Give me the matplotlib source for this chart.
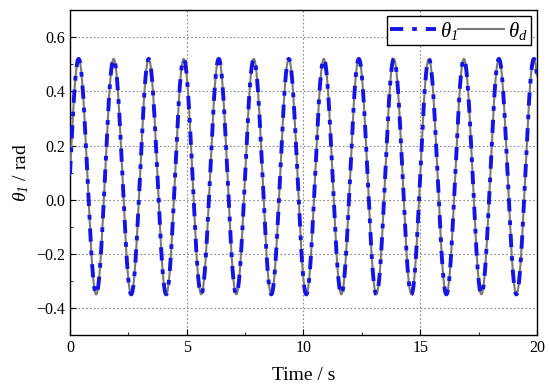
import numpy as np
import matplotlib
matplotlib.use("Agg")
import matplotlib.pyplot as plt
from matplotlib.ticker import MultipleLocator

plt.rcParams['font.family'] = ['Liberation Serif', 'DejaVu Serif']
plt.rcParams['mathtext.fontset'] = 'custom'
plt.rcParams['mathtext.rm'] = 'Liberation Serif:italic'
plt.rcParams['mathtext.it'] = 'Liberation Serif:italic'

# Extrema of the reference trajectory
peak_times = [0.37, 1.87, 3.37, 4.87, 6.37, 7.87, 9.37, 10.87, 12.37, 13.87, 15.37, 16.87, 18.37, 19.87]
peak_value = 0.52
trough_value = -0.35
x_limits = (0, 20)
y_limits = (-0.5, 0.7)
x_ticks = [0, 5, 10, 15, 20]
y_ticks = [-0.4, -0.2, 0.0, 0.2, 0.4, 0.6]

# Build extrema sequence (peaks and troughs between them)
ext_t = []
ext_v = []
period = peak_times[1] - peak_times[0]
ext_t.append(peak_times[0] - period / 2)
ext_v.append(trough_value)
for tp in peak_times:
    ext_t.append(tp)
    ext_v.append(peak_value)
    ext_t.append(tp + period / 2)
    ext_v.append(trough_value)

t = np.linspace(0, 20, 4001)
y = np.empty_like(t)
for k in range(len(ext_t) - 1):
    t0, t1 = ext_t[k], ext_t[k + 1]
    v0, v1 = ext_v[k], ext_v[k + 1]
    m = (t >= t0) & (t <= t1)
    s = (t[m] - t0) / (t1 - t0)
    y[m] = v0 + (v1 - v0) * (1 - np.cos(np.pi * s)) / 2

fig = plt.figure(figsize=(5.5, 3.9), dpi=100)
ax = fig.add_axes([0.1273, 0.141, 0.849, 0.833])

l2, = ax.plot(t, y, color='#7a7a7a', lw=1.5, zorder=3, label=r'$\theta_{d}$')
l1, = ax.plot(t, y, color='#1414e4', lw=2.8, dashes=(3.4, 2.3, 1.2, 2.3), zorder=4,
              label=r'$\theta_{1}$')

ax.set_xlim(*x_limits)
ax.set_ylim(*y_limits)
ax.set_xticks(x_ticks)
ax.set_yticks(y_ticks)
ax.set_yticklabels([f'{v:.1f}'.replace('-', '\u2212') for v in y_ticks])
ax.set_xticklabels([str(v) for v in x_ticks])
ax.xaxis.set_minor_locator(MultipleLocator(2.5))
ax.yaxis.set_minor_locator(MultipleLocator(0.1))
ax.tick_params(which='both', direction='in', labelsize=11.5, top=False, right=False)
ax.tick_params(which='major', length=4)
ax.tick_params(which='minor', length=2.5)
ax.grid(True, which='major', color='#888888', linestyle=(0, (1.5, 2)), lw=0.8)
for sp in ax.spines.values():
    sp.set_linewidth(1.0)

ax.set_xlabel('Time / s', fontsize=14, labelpad=8)
ax.set_ylabel(r'$\theta_{1}$ / rad', fontsize=14, labelpad=4)

leg = ax.legend(handles=[l1, l2], loc='upper right', ncol=2, fontsize=15,
                frameon=True, fancybox=False, edgecolor='black', framealpha=1,
                handlelength=2.2, columnspacing=0.0, handletextpad=0.2,
                borderpad=0.15, borderaxespad=0.3)
leg.get_frame().set_linewidth(1.0)

fig.savefig('out.png', dpi=100)
